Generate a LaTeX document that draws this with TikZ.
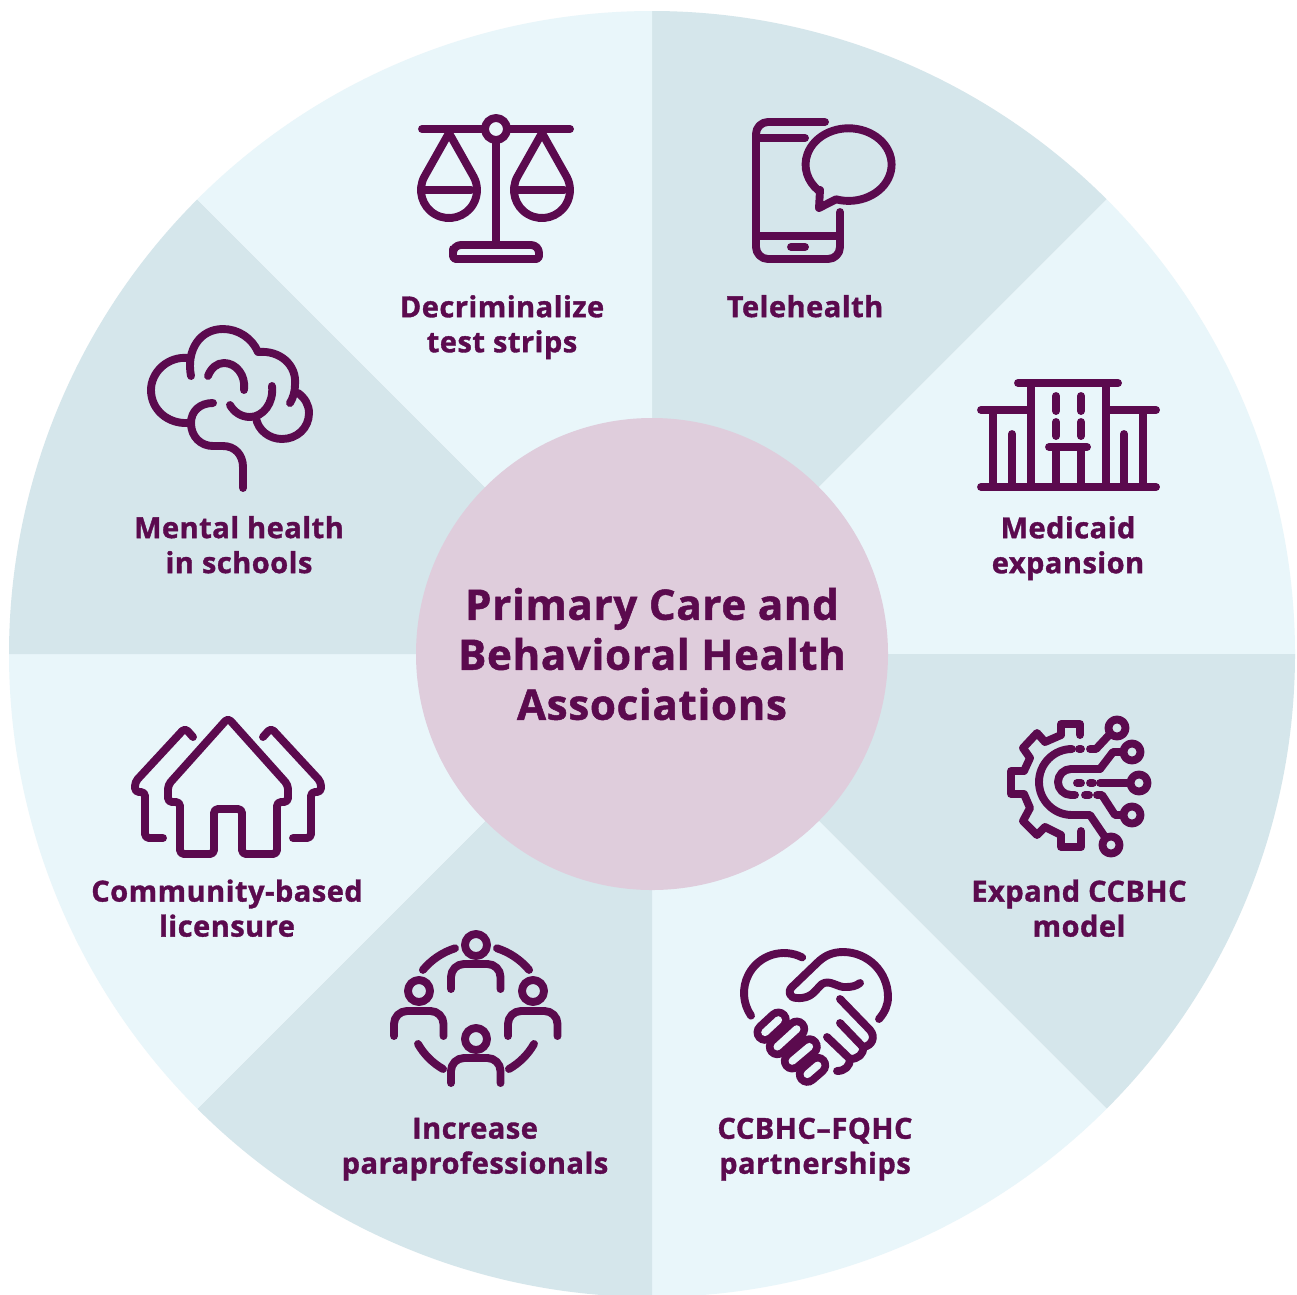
\documentclass[tikz,border=0pt]{standalone}
\usepackage{fontspec}
\setmainfont{Open Sans}[BoldFeatures={FakeBold=1.2,LetterSpace=1.7}]
\definecolor{plum}{HTML}{5B0A4E}
\definecolor{lightw}{HTML}{E9F6FA}
\definecolor{darkw}{HTML}{D5E6EB}
\definecolor{hub}{HTML}{DFCDDC}
\tikzset{
  ico/.style={draw=plum,line width=7.9pt,line cap=round,line join=round},
  lab/.style={text=plum,align=center,font=\fontsize{29}{35}\selectfont\bfseries,inner sep=0pt},
  ttl/.style={text=plum,align=center,font=\fontsize{42}{50}\selectfont\bfseries,inner sep=0pt},
  finout/.style={plum,line width=23pt,line cap=round},
  finin/.style={lightw,line width=7.6pt,line cap=round},
}
\newcommand{\wedgeat}[2]{\fill[#1] (652,654) -- ([shift={(652,654)}]#2:643) arc[start angle=#2,end angle=#2+45,radius=643] -- cycle;}
\newcommand{\iarc}[5]{\draw[ico] ([shift={(#1,#2)}]#4:#3) arc[start angle=#4,end angle=#5,radius=#3];}
\newcommand{\person}[4]{\draw[ico] (#1,#2) circle[radius=11];
  \draw[ico,rounded corners=13pt] (#1-25,#3+25) -- (#1-25,#3) -- (#1+24.5,#3) -- (#1+24.5,#3+25);}
\newcommand{\chipnode}[2]{\draw[ico] (#1,#2) circle[radius=8.5];}
\begin{document}
\begin{tikzpicture}[x=1pt,y=-1pt]
\useasboundingbox (0,0) rectangle (1297,1294);
\fill[white] (0,0) rectangle (1297,1294);
% wedges
\wedgeat{darkw}{-90}
\wedgeat{lightw}{-45}
\wedgeat{darkw}{0}
\wedgeat{lightw}{45}
\wedgeat{darkw}{90}
\wedgeat{lightw}{135}
\wedgeat{darkw}{180}
\wedgeat{lightw}{225}
\fill[hub] (652,654) circle[radius=236];
\node[ttl] (title) at (652,654) {Primary Care and\\Behavioral Health\\Associations};
% scales
\draw[ico] (422,129) -- (485,129);
\draw[ico] (507,129) -- (570,129);
\draw[ico] (496,129) circle[radius=11];
\draw[ico] (496,140) -- (496,245);
\draw[ico,rounded corners=3pt] (453,259) -- (453,252) [rounded corners=8pt] -- (453,245) -- (539,245) [rounded corners=3pt] -- (539,259) -- cycle;
\draw[ico] (424.6,176.3) arc[start angle=209.4,end angle=-29.4,radius=28] -- (449,133) -- cycle;
\draw[ico] (423,190) -- (471,190);
\draw[ico] (517.6,176.3) arc[start angle=209.4,end angle=-29.4,radius=28] -- (542,133) -- cycle;
\draw[ico] (516,190) -- (564,190);
% phone
\draw[ico,rounded corners=12pt] (825,122) -- (756,122) -- (756,259) -- (840,259) -- (840,212);
\draw[ico] (756,138) -- (805,138);
\draw[ico] (756,236) -- (840,236);
\draw[ico] (791,247) -- (805,247);
\draw[ico] (820,190) -- (819,208) -- (836,199.3) arc[start angle=107,end angle=-226,x radius=43,y radius=36.3] -- cycle;
% hospital
\draw[ico] (1018,383) -- (1118,383);
\draw[ico] (981,410) -- (1031,410);
\draw[ico] (1106,410) -- (1156,410);
\draw[ico] (981,487) -- (1156,487);
\draw[ico] (1031,383) -- (1031,487);
\draw[ico] (1106,383) -- (1106,487);
\draw[ico] (993,410) -- (993,487);
\draw[ico] (1143,410) -- (1143,487);
\draw[ico] (1012,434) -- (1012,487);
\draw[ico] (1124,434) -- (1124,487);
\draw[ico] (1056,396) -- (1056,411);
\draw[ico] (1081,396) -- (1081,411);
\draw[ico] (1056,422) -- (1056,436);
\draw[ico] (1081,422) -- (1081,436);
\draw[ico] (1049,447) -- (1087,447);
\draw[ico] (1056,447) -- (1056,487);
\draw[ico] (1081,447) -- (1081,487);
% gear and circuit
\draw[ico] (1080,735) -- (1080,724) -- (1061,724) -- (1061,735) -- (1045,742) -- (1037,733) -- (1023,748) -- (1030,758) -- (1024,771) -- (1011,771) -- (1011,794) -- (1024,794) -- (1030,808) -- (1023,821) -- (1037,835) -- (1045,827) -- (1061,835) -- (1061,847) -- (1081,847) -- (1081,831);
\draw[ico] (1072,749) arc[start angle=-90,end angle=-270,radius=33] -- (1090,815) -- (1105,837);
\draw[ico] (1079,749) -- (1081,749);
\draw[ico] (1090,749) -- (1096,749) -- (1110,734);
\chipnode{1117}{728}
\draw[ico] (1100,769) -- (1071,769) arc[start angle=-90,end angle=-270,radius=13] -- (1075,795);
\draw[ico] (1100,769) -- (1113,752) -- (1123,752);
\chipnode{1132}{752}
\draw[ico] (1085,795) -- (1089,795);
\draw[ico] (1097,795) -- (1102,795) -- (1115,815) -- (1123,815);
\chipnode{1132}{815}
\draw[ico] (1077,783) -- (1081,783);
\draw[ico] (1090,783) -- (1093,783);
\draw[ico] (1100,783) -- (1130,783);
\chipnode{1139}{783}
\chipnode{1111}{845}
% handshake
\iarc{784}{993}{40}{-63}{-214.5}
\draw[ico] (879,1019) .. controls (885,1012) and (888,1005) .. (888,997) .. controls (888,972) and (868,952) .. (843,952) .. controls (832,952) and (824,956) .. (817,963) -- (792,987) .. controls (787,992) and (790,998) .. (797,998) .. controls (812,999) and (815,990) .. (822,984) .. controls (830,979) and (838,988) .. (846,987) .. controls (852,987) and (856,986) .. (860,983);
\draw[ico] (840,999) -- (870,1030) .. controls (876,1037) and (872,1046) .. (863,1047);
\draw[ico] (840,1023) -- (863,1047) .. controls (864,1054) and (858,1059) .. (850,1059);
\draw[ico] (827,1037) -- (850,1059) .. controls (850,1066) and (845,1071) .. (837,1071);
\draw[finout] (765,1032.3) -- (778.3,1020);
\draw[finout] (777.3,1046.7) -- (796.7,1029);
\draw[finout] (792.3,1061) -- (809.3,1046.7);
\draw[finout] (807.3,1074.3) -- (817.7,1065.3);
\draw[finin] (765,1032.3) -- (778.3,1020);
\draw[finin] (777.3,1046.7) -- (796.7,1029);
\draw[finin] (792.3,1061) -- (809.3,1046.7);
\draw[finin] (807.3,1074.3) -- (817.7,1065.3);
% people
\person{476}{945}{964}{}
\person{419}{991}{1011}{}
\person{533}{991}{1011}{}
\person{476}{1039}{1058}{}
\iarc{476}{1014}{69}{219.7}{252.3}
\iarc{476}{1014}{69}{287.7}{320.3}
\iarc{476}{1011}{66.7}{150.4}{119.6}
\iarc{476}{1011}{66.7}{29.6}{60.4}
% houses
\draw[ico,rounded corners=4pt] (228,718) -- (288,785) -- (288,802) -- (277,802) -- (277,854) -- (242,854) -- (242,809) -- (214,809) -- (214,854) -- (180,854) -- (180,802) -- (168,802) -- (168,785) -- cycle;
\draw[ico,rounded corners=4pt] (193,737) -- (185,728) -- (135,782) -- (135,792) -- (145,792) -- (145,838) -- (163,838);
\draw[ico,rounded corners=4pt] (263,737) -- (271,728) -- (321,782) -- (321,792) -- (311,792) -- (311,838) -- (293,838);
% brain
\draw[ico] (191,376) .. controls (186,350) and (200,329) .. (223,329) .. controls (238,329) and (252,338) .. (258,352) .. controls (280,350) and (297,365) .. (295,385) .. controls (295,392) and (293,398) .. (290,403);
\draw[ico] (188,358) .. controls (168,356) and (151,372) .. (151,390) .. controls (151,410) and (168,424) .. (188,423);
\draw[ico] (298,393) .. controls (305,398) and (309,405) .. (309,413) .. controls (309,428) and (297,439) .. (282,439) .. controls (269,439) and (258,430) .. (256,418);
\draw[ico] (208,376) .. controls (211,368) and (217,363) .. (224,363) .. controls (236,363) and (246,375) .. (244,390);
\draw[ico] (272,386) .. controls (274,403) and (263,417) .. (250,417) .. controls (241,417) and (234,412) .. (230,405);
\draw[ico] (213,403) .. controls (200,403) and (191,411) .. (191,423) .. controls (191,437) and (201,446) .. (213,446) -- (223,446) .. controls (235,446) and (243,455) .. (243,467) -- (243,488);
% labels
\node[lab] (l1) at (502,327.2) {Decriminalize\\test strips};
\node[lab] (l2) at (805,306.2) {Telehealth};
\node[lab] (l3) at (1068,548.2) {Medicaid\\expansion};
\node[lab] (l4) at (1079,908.2) {Expand CCBHC\\model};
\node[lab] (l5) at (815,1149.2) {CCBHC–FQHC\\partnerships};
\node[lab] (l6) at (475,1149.2) {Increase\\paraprofessionals};
\node[lab] (l7) at (227,908.2) {Community-based\\licensure};
\node[lab] (l8) at (239,544.7) {Mental health\\in schools};
\end{tikzpicture}
\end{document}
